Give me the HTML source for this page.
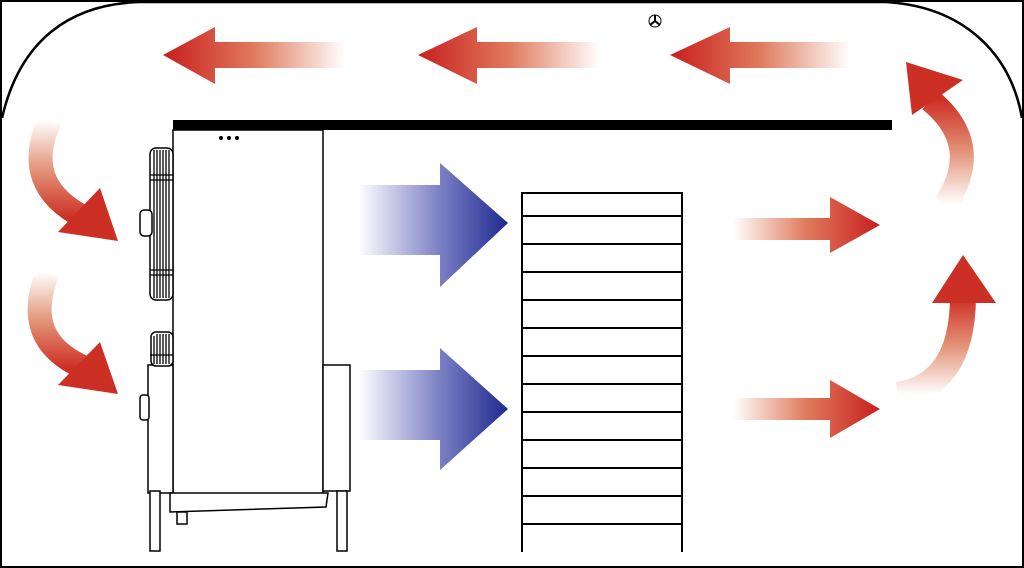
<!DOCTYPE html>
<html><head><style>html,body{margin:0;padding:0;background:#fff}svg{display:block}</style></head><body>
<svg width="1024" height="568" viewBox="0 0 1024 568" xmlns="http://www.w3.org/2000/svg">
<defs>
<linearGradient id="rl" x1="0" x2="1" y1="0" y2="0"><stop offset="0" stop-color="#c81e1e"/><stop offset="0.5" stop-color="#e07a5c"/><stop offset="1" stop-color="#fff"/></linearGradient>
<linearGradient id="rr" x1="0" x2="1" y1="0" y2="0"><stop offset="0" stop-color="#fff"/><stop offset="0.5" stop-color="#e07a5c"/><stop offset="1" stop-color="#c81e1e"/></linearGradient>
<linearGradient id="bl" x1="0" x2="1" y1="0" y2="0"><stop offset="0" stop-color="#fff"/><stop offset="0.55" stop-color="#7a7fc4"/><stop offset="1" stop-color="#1f2a8f"/></linearGradient>
<linearGradient id="cd" x1="0" x2="0" y1="0" y2="1"><stop offset="0" stop-color="#fff"/><stop offset="0.5" stop-color="#e3957a"/><stop offset="1" stop-color="#cc3025"/></linearGradient>
<linearGradient id="cu" x1="0" x2="0" y1="1" y2="0"><stop offset="0" stop-color="#fff"/><stop offset="0.5" stop-color="#e3957a"/><stop offset="1" stop-color="#cc3025"/></linearGradient>
</defs>
<rect x="1" y="1" width="1022" height="566" fill="#fff" stroke="#000" stroke-width="2"/>
<path d="M2,118 C20,40 70,4 140,2 L885,2 C960,6 1010,50 1022,118" fill="none" stroke="#000" stroke-width="2.5"/>
<circle cx="655" cy="21" r="6" fill="none" stroke="#000" stroke-width="1"/>
<path d="M655,21 L655,15 M655,21 L650,25 M655,21 L660,25" stroke="#000" stroke-width="2"/>
<polygon points="163,55 215,27 215,42 345,42 345,68 215,68 215,84" fill="url(#rl)"/>
<polygon points="418,55 477,27 477,42 600,42 600,68 477,68 477,84" fill="url(#rl)"/>
<polygon points="670,55 730,27 730,42 850,42 850,68 730,68 730,84" fill="url(#rl)"/>
<rect x="173" y="120" width="719" height="10" fill="#000"/>
<g fill="#fff" stroke="#000" stroke-width="1.5">
<rect x="173" y="130" width="150" height="365"/>
<rect x="323" y="365" width="27" height="126"/>
<rect x="148" y="365" width="25" height="128"/>
<rect x="150" y="148" width="23" height="152" rx="6"/>
<rect x="140" y="210" width="12" height="26" rx="4"/>
<rect x="151" y="332" width="22" height="34" rx="5"/>
<rect x="140" y="395" width="9" height="25" rx="3"/>
<polygon points="170,493 328,493 326,507 170,512"/>
<rect x="150" y="491" width="10" height="60"/>
<rect x="337" y="491" width="10" height="60"/>
<rect x="177" y="512" width="10" height="12"/>
</g>
<g stroke="#000" stroke-width="1.3">
<line x1="154" y1="150" x2="154" y2="298"/><line x1="157" y1="150" x2="157" y2="298"/><line x1="160" y1="150" x2="160" y2="298"/><line x1="163" y1="150" x2="163" y2="298"/><line x1="166" y1="150" x2="166" y2="298"/><line x1="169" y1="150" x2="169" y2="298"/>
<line x1="154" y1="336" x2="154" y2="364"/><line x1="157" y1="334" x2="157" y2="364"/><line x1="160" y1="334" x2="160" y2="364"/><line x1="163" y1="334" x2="163" y2="364"/><line x1="166" y1="334" x2="166" y2="364"/><line x1="169" y1="334" x2="169" y2="364"/>
<line x1="150" y1="175" x2="173" y2="175"/><line x1="150" y1="180" x2="173" y2="180"/><line x1="150" y1="270" x2="173" y2="270"/><line x1="150" y1="275" x2="173" y2="275"/>
<line x1="150" y1="355" x2="173" y2="355"/>
</g>
<circle cx="221" cy="138" r="2" fill="#000"/><circle cx="229" cy="138" r="2" fill="#000"/><circle cx="237" cy="138" r="2" fill="#000"/>
<polygon points="358,185 440,185 440,163 508,223 440,287 440,255 358,255" fill="url(#bl)"/>
<polygon points="358,370 440,370 440,348 508,409 440,470 440,440 358,440" fill="url(#bl)"/>
<g stroke="#000" stroke-width="2" fill="none">
<line x1="522" y1="192" x2="522" y2="552"/><line x1="682" y1="192" x2="682" y2="552"/>
<line x1="521" y1="193" x2="683" y2="193"/>
<line x1="521" y1="216" x2="683" y2="216"/><line x1="521" y1="244" x2="683" y2="244"/>
<line x1="521" y1="272" x2="683" y2="272"/><line x1="521" y1="300" x2="683" y2="300"/>
<line x1="521" y1="328" x2="683" y2="328"/><line x1="521" y1="356" x2="683" y2="356"/>
<line x1="521" y1="384" x2="683" y2="384"/><line x1="521" y1="412" x2="683" y2="412"/>
<line x1="521" y1="440" x2="683" y2="440"/><line x1="521" y1="468" x2="683" y2="468"/>
<line x1="521" y1="496" x2="683" y2="496"/><line x1="521" y1="524" x2="683" y2="524"/>
</g>
<polygon points="733,218 830,218 830,197 880,225 830,253 830,240 733,240" fill="url(#rr)"/>
<polygon points="733,398 830,398 830,380 880,409 830,438 830,420 733,420" fill="url(#rr)"/>
<path d="M50,120 Q20,185 85,218" fill="none" stroke="url(#cd)" stroke-width="24"/>
<polygon points="58,232 100,188 118,241" fill="#cc3025"/>
<path d="M48,272 Q20,340 85,368" fill="none" stroke="url(#cd)" stroke-width="24"/>
<polygon points="58,385 100,342 118,394" fill="#cc3025"/>
<path d="M945,205 Q985,145 930,100" fill="none" stroke="url(#cu)" stroke-width="24"/>
<polygon points="906,62 963,80 912,115" fill="#cc3025"/>
<path d="M898,395 Q962,385 963,298" fill="none" stroke="url(#cu)" stroke-width="26"/>
<polygon points="963,255 932,303 996,303" fill="#cc3025"/>
</svg>
</body></html>
